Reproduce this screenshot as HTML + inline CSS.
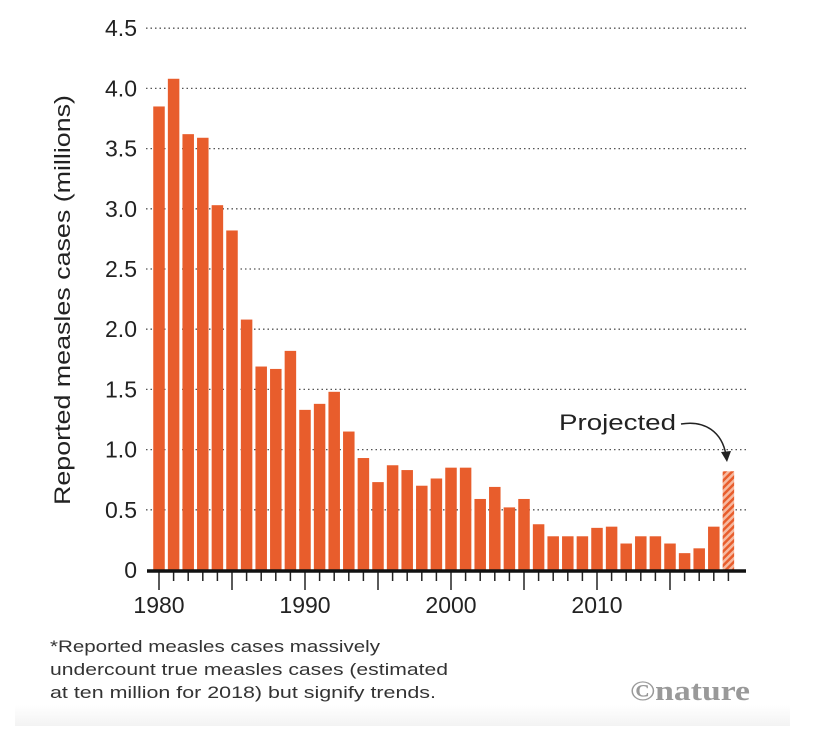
<!DOCTYPE html>
<html><head><meta charset="utf-8">
<style>
html,body{margin:0;padding:0;background:#fff;}
svg{display:block;font-family:"Liberation Sans",sans-serif;}
</style></head>
<body>
<svg id="chart" width="816" height="756" viewBox="0 0 816 756">
<defs>
<pattern id="hatch" patternUnits="userSpaceOnUse" width="5" height="5" patternTransform="rotate(45)">
<rect width="5" height="5" fill="#f6b9a0"/>
<rect width="2.5" height="5" fill="#e85d2c"/>
</pattern>
<linearGradient id="shade" x1="0" y1="0" x2="0" y2="1">
<stop offset="0" stop-color="#fff"/><stop offset="1" stop-color="#f3f3f3"/>
</linearGradient>
</defs>
<rect x="15" y="705" width="775" height="21" fill="url(#shade)"/>
<g id="grid"></g>
<g id="bars"></g>
<g id="axis"></g>
<text x="70" y="300" font-size="22" fill="#222" text-anchor="middle" textLength="410" lengthAdjust="spacingAndGlyphs" transform="rotate(-90 70 300)">Reported measles cases (millions)</text>
<g>
<text x="559" y="430" font-size="22" fill="#222" textLength="117" lengthAdjust="spacingAndGlyphs">Projected</text>
<path d="M681,424 C705,420 722,432 726,455" fill="none" stroke="#222" stroke-width="1.5"/>
<path d="M721,452 L727,462 L731,451 Z" fill="#222"/>
</g>
<g font-size="17" fill="#333">
<text x="50" y="652" textLength="330" lengthAdjust="spacingAndGlyphs">*Reported measles cases massively</text>
<text x="50" y="675" textLength="398" lengthAdjust="spacingAndGlyphs">undercount true measles cases (estimated</text>
<text x="50" y="698" textLength="386" lengthAdjust="spacingAndGlyphs">at ten million for 2018) but signify trends.</text>
</g>
<text x="630" y="700" font-family="Liberation Serif,serif" font-weight="bold" font-size="28" fill="#999" textLength="120" lengthAdjust="spacingAndGlyphs">©nature</text>
</svg>
<script>
const years = [1980,1981,1982,1983,1984,1985,1986,1987,1988,1989,1990,1991,1992,1993,1994,1995,1996,1997,1998,1999,2000,2001,2002,2003,2004,2005,2006,2007,2008,2009,2010,2011,2012,2013,2014,2015,2016,2017,2018,2019];
const cases = [3.85,4.08,3.62,3.59,3.03,2.82,2.08,1.69,1.67,1.82,1.33,1.38,1.48,1.15,0.93,0.73,0.87,0.83,0.70,0.76,0.85,0.85,0.59,0.69,0.52,0.59,0.38,0.28,0.28,0.28,0.35,0.36,0.22,0.28,0.28,0.22,0.14,0.18,0.36,0.82];
const projected = [false,false,false,false,false,false,false,false,false,false,false,false,false,false,false,false,false,false,false,false,false,false,false,false,false,false,false,false,false,false,false,false,false,false,false,false,false,false,false,true];
const yTicks = [0,0.5,1.0,1.5,2.0,2.5,3.0,3.5,4.0,4.5];
const yTickLabels = ["0","0.5","1.0","1.5","2.0","2.5","3.0","3.5","4.0","4.5"];
const xLabelYears = [1980,1990,2000,2010];

const NS="http://www.w3.org/2000/svg";
const y0=570, pxPerUnit=120.4;
const yS=v=>y0-v*pxPerUnit;
const xS=yr=>159+(yr-1980)*14.6;
function mk(tag,attrs,parent){const e=document.createElementNS(NS,tag);for(const k in attrs)e.setAttribute(k,attrs[k]);parent.appendChild(e);return e;}
const grid=document.getElementById('grid'),bars=document.getElementById('bars'),axis=document.getElementById('axis');

yTicks.forEach((v,i)=>{
  if(v>0){
    const l=mk('line',{x1:146,x2:746,y1:yS(v),y2:yS(v),stroke:'#555','stroke-width':1.3,'stroke-dasharray':'1.5,3'},grid);
    
    
  }
  const t=mk('text',{x:137,y:yS(v)+8,'font-size':23,fill:'#222','text-anchor':'end'},grid);
  t.textContent=yTickLabels[i];
  
  
});

years.forEach((yr,i)=>{
  const w=11.5;
  const r=mk('rect',{x:xS(yr)-w/2,y:yS(cases[i]),width:w,height:cases[i]*pxPerUnit,fill:projected[i]?'url(#hatch)':'#e85d2c'},bars);
  
  
  const big=(yr%5===0);
  const tk=mk('line',{x1:xS(yr),x2:xS(yr),y1:y0,y2:y0+(big?20:11),stroke:'#222','stroke-width':1.5},axis);
  
  
});

const ax=mk('line',{x1:147,x2:746,y1:y0+1,y2:y0+1,stroke:'#111','stroke-width':3.5},axis);



xLabelYears.forEach(yr=>{
  const t=mk('text',{x:xS(yr),y:613,'font-size':23,fill:'#222','text-anchor':'middle'},axis);
  t.textContent=yr;
  
  
});
</script>
</body></html>
